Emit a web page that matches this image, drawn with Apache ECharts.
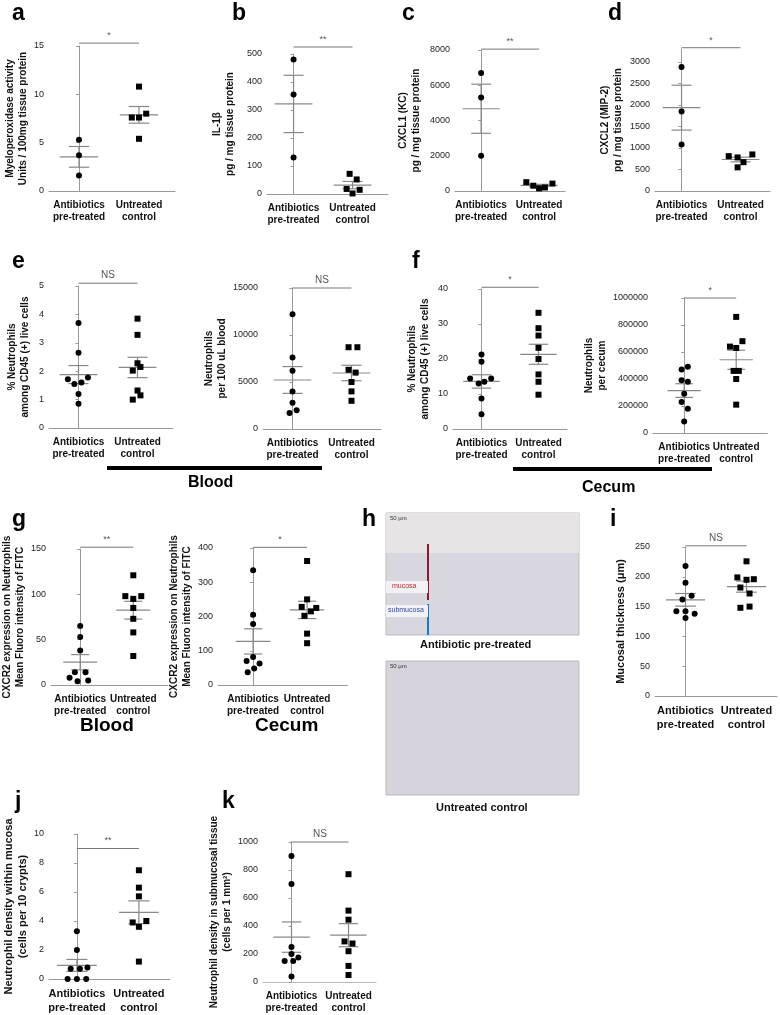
<!DOCTYPE html>
<html><head><meta charset="utf-8">
<script src="https://cdn.jsdelivr.net/npm/echarts@6/dist/echarts.min.js"></script>
<style>html,body{margin:0;padding:0;background:#fff}#c{width:780px;height:1015px}</style>
</head><body><div id="c"></div>
<script>
const categories = ['Antibiotics\npre-treated', 'Untreated\ncontrol'];
const aAnti = [5.3, 3.7, 1.6], aAntiJ = [0, 0, 0];
const aUnt = [10.8, 7.6, 7.6, 8.0, 5.4], aUntJ = [0, -0.12, 0, 0.12, 0];
const bAnti = [480, 355, 130], bAntiJ = [0, 0, 0];
const bUnt = [72, 52, 18, 15, 2], bUntJ = [-0.05, 0.07, -0.1, 0.12, 0];
const cAnti = [6700, 5300, 2000], cAntiJ = [0, 0, 0];
const cUnt = [500, 300, 150, 200, 420], cUntJ = [-0.22, -0.1, 0, 0.1, 0.23];
const dAnti = [2880, 1850, 1080], dAntiJ = [0, 0, 0];
const dUnt = [810, 780, 550, 670, 850], dUntJ = [-0.2, -0.05, -0.05, 0.05, 0.2];
const e1Anti = [3.7, 2.65, 1.72, 1.55, 1.6, 1.78, 1.2, 0.85], e1AntiJ = [0, 0, -0.18, -0.07, 0.05, 0.16, 0, 0];
const e1Unt = [3.85, 3.28, 2.28, 2.02, 2.15, 1.32, 1.0, 1.15], e1UntJ = [0, 0, 0, -0.08, 0.05, 0, -0.08, 0.05];
const e2Anti = [12200, 7600, 6200, 4000, 2800, 1700, 2000], e2AntiJ = [0, 0, 0, 0, 0, -0.05, 0.07];
const e2Unt = [8700, 8700, 6300, 6000, 5000, 4000, 3000], e2UntJ = [-0.05, 0.1, -0.05, 0.07, 0, 0, 0];
const f1Anti = [21.3, 19.2, 14.4, 14.4, 13.0, 13.5, 8.7, 4.2], f1AntiJ = [0, 0, -0.2, 0.17, -0.05, 0.05, 0, 0];
const f1Unt = [33.2, 28.8, 26.7, 23.2, 20.0, 15.6, 13.5, 9.8], f1UntJ = [0, 0, 0, 0, 0, 0, 0, 0];
const f2Anti = [470000, 490000, 390000, 380000, 290000, 230000, 180000, 85000], f2AntiJ = [-0.05, 0.07, -0.05, 0.07, 0, -0.05, 0.07, 0];
const f2Unt = [860000, 640000, 630000, 680000, 460000, 460000, 400000, 210000], f2UntJ = [0, -0.12, 0, 0.12, -0.05, 0.05, 0, 0];
const g1Anti = [65, 53, 38, 14, 14, 8, 4, 5], g1AntiJ = [0, 0, 0, -0.1, 0.1, -0.2, -0.05, 0.15];
const g1Unt = [121, 98, 95, 98, 85, 73, 58, 32], g1UntJ = [0, -0.15, 0, 0.15, 0, 0, 0, 0];
const g2Anti = [335, 205, 178, 82, 70, 63, 48, 37], g2AntiJ = [0, 0, 0, 0, -0.12, 0.12, 0.02, -0.1];
const g2Unt = [362, 250, 228, 215, 225, 202, 150, 122], g2UntJ = [0, 0, -0.1, 0.07, 0.17, -0.05, 0, 0];
const iAnti = [218, 190, 168, 162, 142, 142, 138, 131], iAntiJ = [0, 0, 0.1, -0.05, -0.15, 0, 0.15, 0];
const iUnt = [226, 199, 195, 196, 182, 172, 148, 150], iUntJ = [0, -0.15, 0, 0.12, -0.1, 0.05, -0.1, 0.05];
const jAnti = [3.3, 2.0, 0.7, 0.7, 0.8, 0, 0, 0], jAntiJ = [0, 0, -0.1, 0.05, 0.17, -0.15, 0, 0.15];
const jUnt = [7.5, 6.3, 5.7, 3.9, 4.0, 3.6, 1.2], jUntJ = [0, 0, 0, -0.1, 0.12, 0, 0];
const kAnti = [900, 700, 250, 200, 150, 150, 175, 40], kAntiJ = [0, 0, 0, 0, -0.12, 0.03, 0.12, 0];
const kUnt = [770, 510, 445, 290, 275, 220, 115, 50], kUntJ = [0, 0, 0, -0.07, 0.07, 0, 0, 0];

const FONT = 'Arial, "Liberation Sans", sans-serif';
const panels = [
  {a:aAnti,aj:aAntiJ,u:aUnt,uj:aUntJ,ax:49,sp:60,xmin:-0.5,xmax:1.6,top:46,bot:191,max:15,iv:5,sig:15.3,st:'*',name:'Myeloperoxidase activity\nUnits / 100mg tissue protein',gap:19},
  {a:bAnti,aj:bAntiJ,u:bUnt,uj:bUntJ,ax:267,sp:59,xmin:-0.45,xmax:1.6,top:54,bot:194,max:500,iv:100,sig:525,st:'**',name:'IL-1β\npg / mg tissue protein',gap:30},
  {a:cAnti,aj:cAntiJ,u:cUnt,uj:cUntJ,ax:455,sp:58,xmin:-0.45,xmax:1.45,top:50,bot:191,max:8000,iv:2000,sig:8050,st:'**',name:'CXCL1 (KC)\npg / mg tissue protein',gap:32},
  {a:dAnti,aj:dAntiJ,u:dUnt,uj:dUntJ,ax:655,sp:59,xmin:-0.45,xmax:1.5,top:49,bot:191,max:3300,iv:500,sig:3330,st:'*',name:'CXCL2 (MIP-2)\npg / mg tissue protein',gap:30},
  {a:e1Anti,aj:e1AntiJ,u:e1Unt,uj:e1UntJ,ax:49,sp:59,xmin:-0.5,xmax:1.6,top:286,bot:428,max:5,iv:1,sig:5.1,st:'NS',name:'% Neutrophils\namong CD45 (+) live cells',gap:17},
  {a:e2Anti,aj:e2AntiJ,u:e2Unt,uj:e2UntJ,ax:263,sp:59,xmin:-0.5,xmax:1.5,top:288,bot:429,max:15000,iv:5000,sig:15000,st:'NS',name:'Neutrophils\nper 100 uL blood',gap:31},
  {a:f1Anti,aj:f1AntiJ,u:f1Unt,uj:f1UntJ,ax:453,sp:57,xmin:-0.5,xmax:1.5,top:289,bot:429,max:40,iv:10,sig:40.5,st:'*',name:'% Neutrophils\namong CD45 (+) live cells',gap:21},
  {a:f2Anti,aj:f2AntiJ,u:f2Unt,uj:f2UntJ,ax:653,sp:52,xmin:-0.6,xmax:1.6,top:298,bot:433,max:1000000,iv:200000,sig:1000000,st:'*',name:'Neutrophils\nper cecum',gap:40},
  {a:g1Anti,aj:g1AntiJ,u:g1Unt,uj:g1UntJ,ax:49,sp:54,xmin:-0.55,xmax:1.65,top:549,bot:685,max:150,iv:50,sig:152,st:'**',name:'CXCR2 expression on Neutrophils\nMean Fluoro intensity of FITC',gap:24},
  {a:g2Anti,aj:g2AntiJ,u:g2Unt,uj:g2UntJ,ax:218,sp:54,xmin:-0.65,xmax:1.75,top:548,bot:685,max:400,iv:100,sig:402,st:'*',name:'CXCR2 expression on Neutrophils\nMean Fluoro intensity of FITC',gap:16},
  {a:iAnti,aj:iAntiJ,u:iUnt,uj:iUntJ,ax:655,sp:62,xmin:-0.5,xmax:1.5,top:547,bot:696,max:250,iv:50,sig:252,st:'NS',name:'Mucosal thickness (μm)',gap:27,big:true},
  {a:jAnti,aj:jAntiJ,u:jUnt,uj:jUntJ,ax:49,sp:62,xmin:-0.45,xmax:1.5,top:834,bot:982,max:10,iv:2,sig:9.0,st:'**',name:'Neutrophil density within mucosa\n(cells per 10 crypts)',gap:19,big:true},
  {a:kAnti,aj:kAntiJ,u:kUnt,uj:kUntJ,ax:263,sp:57,xmin:-0.5,xmax:1.5,top:842,bot:982,max:1000,iv:200,sig:1000,st:'NS',name:'Neutrophil density in submucosal tissue\n(cells per 1 mm²)',gap:28,dotted:true}
];

function stats(v){const n=v.length;const m=v.reduce((s,x)=>s+x,0)/n;const sd=Math.sqrt(v.reduce((s,x)=>s+(x-m)*(x-m),0)/(n-1));return [m, sd/Math.sqrt(n)];}

const grid=[],xAxis=[],yAxis=[],series=[];
panels.forEach((p,i)=>{
  grid.push({left:p.ax,top:p.top,width:(p.xmax-p.xmin)*p.sp,height:p.bot-p.top});
  xAxis.push({type:'value',gridIndex:i,min:p.xmin,max:p.xmax,interval:0.05,splitLine:{show:false},axisTick:{show:false},
    axisLine:{lineStyle:{color:p.dotted?'#aaa':'#999',type:p.dotted?'dotted':'solid',width:1}},
    axisLabel:{interval:0,margin:8,color:'#111',fontFamily:FONT,fontSize:p.big?11:10,fontWeight:'bold',lineHeight:p.big?14:12,
      formatter:v=>{const r=Math.round(v);return Math.abs(v-r)<1e-6&&(r===0||r===1)?categories[r]:'';}}});
  yAxis.push({type:'value',gridIndex:i,min:0,max:p.max,interval:p.iv,splitLine:{show:false},
    axisLine:{show:true,lineStyle:{color:'#999'}},axisTick:{show:true,length:3,lineStyle:{color:'#999'}},
    axisLabel:{color:'#222',fontFamily:FONT,fontSize:9,margin:5,showMaxLabel:p.max%p.iv===0,formatter:v=>String(v)},
    name:p.name,nameLocation:'middle',nameGap:p.gap,nameTextStyle:{fontFamily:FONT,fontSize:p.big?11:10,fontWeight:'bold',color:'#111',lineHeight:p.big?14:13}});
  series.push({type:'scatter',xAxisIndex:i,yAxisIndex:i,symbol:'circle',symbolSize:6,itemStyle:{color:'#000',opacity:1},silent:true,
    data:p.a.map((v,k)=>[p.aj[k],v])});
  series.push({type:'scatter',xAxisIndex:i,yAxisIndex:i,symbol:'rect',symbolSize:6,itemStyle:{color:'#000',opacity:1},silent:true,
    data:p.u.map((v,k)=>[1+p.uj[k],v])});
  const sA=stats(p.a),sU=stats(p.u);
  series.push({type:'custom',xAxisIndex:i,yAxisIndex:i,silent:true,clip:false,z:1,
    data:[[0,sA[0],sA[1]],[1,sU[0],sU[1]]],
    renderItem:(params,api)=>{const x=api.value(0),m=api.value(1),s=api.value(2);
      const c=api.coord([x,m]),t=api.coord([x,m+s]),b=api.coord([x,m-s]);
      const l1=api.coord([x-0.32,m]),r1=api.coord([x+0.32,m]),l2=api.coord([x-0.17,m]),r2=api.coord([x+0.17,m]);
      const st={stroke:'#888',lineWidth:1.2};
      return {type:'group',children:[
        {type:'line',shape:{x1:l1[0],y1:c[1],x2:r1[0],y2:c[1]},style:st},
        {type:'line',shape:{x1:l2[0],y1:t[1],x2:r2[0],y2:t[1]},style:st},
        {type:'line',shape:{x1:l2[0],y1:b[1],x2:r2[0],y2:b[1]},style:st},
        {type:'line',shape:{x1:c[0],y1:t[1],x2:c[0],y2:b[1]},style:st}]};}});
  series.push({type:'custom',xAxisIndex:i,yAxisIndex:i,silent:true,clip:false,
    data:[[0,p.sig]],
    renderItem:(params,api)=>{const y=api.value(1);const a=api.coord([0,y]),b=api.coord([1,y]);
      return {type:'group',children:[
        {type:'line',shape:{x1:a[0],y1:a[1],x2:b[0],y2:b[1]},style:{stroke:'#777',lineWidth:1}},
        {type:'text',style:{text:p.st,x:(a[0]+b[0])/2,y:a[1]-3,align:'center',verticalAlign:'bottom',fontSize:p.st==='NS'?10:9,fontFamily:FONT,fill:'#555'}}]};}});
});

const L=(t,x,y)=>({type:'text',left:x,top:y,style:{text:t,font:'bold 23px '+FONT,fill:'#000'}});
const graphic=[
  L('a',12,2),L('b',232,2),L('c',402,2),L('d',608,2),L('e',12,250),L('f',412,250),L('g',12,508),L('h',362,508),L('i',610,508),L('j',15,790),L('k',222,790),
  {type:'rect',shape:{x:107,y:466,width:215,height:4},style:{fill:'#000'}},
  {type:'text',left:188,top:475,style:{text:'Blood',font:'bold 16px '+FONT,fill:'#000'}},
  {type:'rect',shape:{x:513,y:467,width:199,height:4},style:{fill:'#000'}},
  {type:'text',left:582,top:480,style:{text:'Cecum',font:'bold 16px '+FONT,fill:'#000'}},
  {type:'text',left:80,top:716,style:{text:'Blood',font:'bold 19px '+FONT,fill:'#000'}},
  {type:'text',left:255,top:716,style:{text:'Cecum',font:'bold 19px '+FONT,fill:'#000'}},
  {type:'rect',shape:{x:386,y:513,width:193,height:122},style:{fill:'#d8d6df',stroke:'#bbb'}},
  {type:'rect',shape:{x:386,y:513,width:193,height:40},style:{fill:'#e6e4e4'}},
  {type:'line',shape:{x1:428,y1:544,x2:428,y2:600},style:{stroke:'#8b1a2a',lineWidth:2}},
  {type:'line',shape:{x1:428,y1:604,x2:428,y2:635},style:{stroke:'#1a7ac4',lineWidth:2}},
  {type:'rect',shape:{x:386,y:581,width:42,height:12},style:{fill:'#f2f2f6'}},
  {type:'text',left:392,top:583,style:{text:'mucosa',font:'7px '+FONT,fill:'#c0282e'}},
  {type:'rect',shape:{x:386,y:605,width:42,height:12},style:{fill:'#f2f2f6'}},
  {type:'text',left:388,top:607,style:{text:'submucosa',font:'7px '+FONT,fill:'#2c4a9a'}},
  {type:'text',left:390,top:515,style:{text:'50 µm',font:'6px '+FONT,fill:'#333'}},
  {type:'text',left:420,top:639,style:{text:'Antibiotic pre-treated',font:'bold 11px '+FONT,fill:'#111'}},
  {type:'rect',shape:{x:386,y:661,width:193,height:134},style:{fill:'#d6d3dc',stroke:'#bbb'}},
  {type:'text',left:390,top:663,style:{text:'50 µm',font:'6px '+FONT,fill:'#333'}},
  {type:'text',left:436,top:802,style:{text:'Untreated control',font:'bold 11px '+FONT,fill:'#111'}}
];

const chart=echarts.init(document.getElementById('c'));
chart.setOption({animation:false,backgroundColor:'#fff',grid,xAxis,yAxis,series,graphic});
</script></body></html>
